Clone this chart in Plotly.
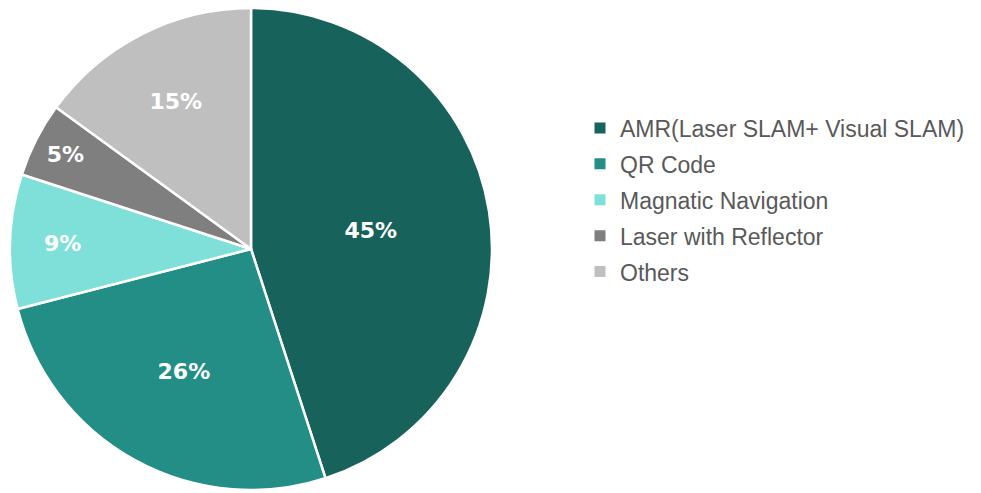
import plotly.graph_objects as go

categories = ["AMR(Laser SLAM+ Visual SLAM)", "QR Code", "Magnatic Navigation",
              "Laser with Reflector", "Others"]
values = [45, 26, 9, 5, 15]
colors = ["#18625c", "#238e85", "#7ee0d8", "#7f7f7f", "#bfbfbf"]

fig = go.Figure()
fig.add_trace(go.Pie(
    labels=categories, values=values, sort=False, direction="clockwise", rotation=0,
    marker=dict(colors=colors, line=dict(color="white", width=2.5)),
    texttemplate="%{percent:.0%}", textposition="inside", insidetextorientation="horizontal",
    textfont=dict(family="DejaVu Sans", size=22, color="white", weight="bold"),
    showlegend=False, hoverinfo="label+percent",
    domain=dict(x=[2/981, 484/981], y=[11/493, 493/493]),
))
for i, (c, col) in enumerate(zip(categories, colors)):
    fig.add_trace(go.Scatter(
        x=[None], y=[None], mode="markers", name=c, legendgroup=f"g{i}",
        marker=dict(symbol="square", size=11, color=col),
        showlegend=True,
    ))

fig.update_layout(
    width=981, height=493,
    margin=dict(l=0, r=0, t=0, b=0),
    paper_bgcolor="white", plot_bgcolor="white",
    xaxis=dict(visible=False), yaxis=dict(visible=False),
    legend=dict(x=572/981, y=(493-192)/493, xanchor="left", yanchor="middle",
                font=dict(family="Liberation Sans, Arial", size=23, color="#595959"),
                tracegroupgap=3, bgcolor="rgba(0,0,0,0)"),
)
fig.write_html("out.html")
